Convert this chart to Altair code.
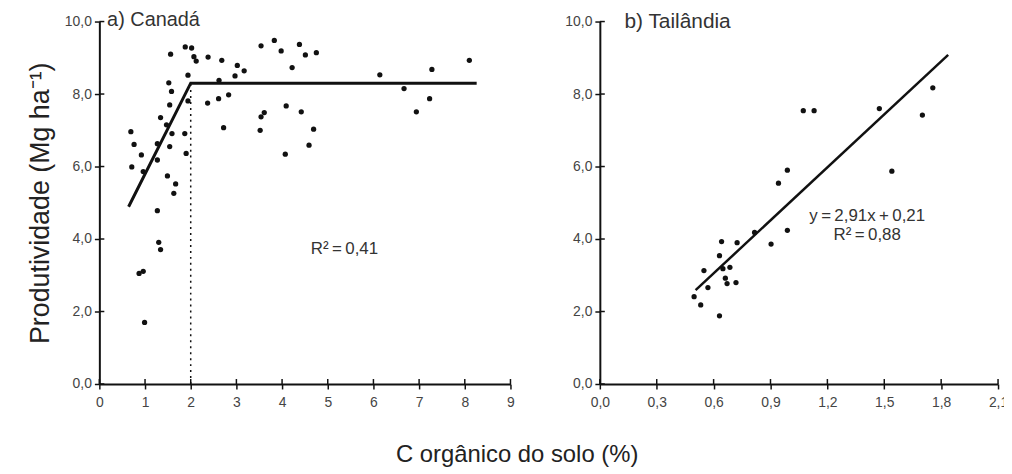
import altair as alt
import pandas as pd

# ---------------- data ----------------
# a) Canadá
ca_x = [0.69, 0.76, 0.71, 0.92, 0.96, 1.27, 1.27, 1.34, 1.47, 1.54, 1.49, 1.67, 1.63,
        1.56, 1.52, 1.58, 1.54, 1.59, 1.87, 1.90, 1.88, 2.02, 2.07, 2.12, 2.38, 2.68,
        3.02, 3.17, 2.97, 1.94, 1.94, 2.62, 2.37, 2.61, 2.83, 2.72, 3.54, 3.83, 3.98,
        4.38, 4.51, 4.75, 4.22, 3.61, 3.54, 4.09, 4.42, 4.69, 3.52, 4.59, 4.07, 6.14,
        6.67, 7.28, 7.23, 6.94, 8.10, 1.27, 1.30, 1.34, 0.87, 0.96, 0.99]
ca_y = [6.96, 6.61, 5.99, 6.32, 5.86, 6.63, 6.18, 7.35, 7.15, 6.55, 5.74, 5.52, 5.26,
        9.10, 8.31, 8.07, 7.70, 6.91, 6.91, 6.36, 9.30, 9.27, 9.03, 8.91, 9.02, 8.93,
        8.79, 8.64, 8.50, 8.52, 7.81, 8.38, 7.75, 7.87, 7.98, 7.07, 9.33, 9.48, 9.19,
        9.37, 9.08, 9.14, 8.73, 7.49, 7.37, 7.67, 7.51, 7.03, 7.00, 6.59, 6.34, 8.53,
        8.15, 8.68, 7.87, 7.51, 8.93, 4.78, 3.91, 3.71, 3.05, 3.11, 1.70]
ca_fit_x = [0.64, 2.0, 8.26]
ca_fit_y = [4.89, 8.30, 8.30]
ca_break_x = [2.0, 2.0]
ca_break_y = [0.0, 8.30]

# b) Tailândia
th_x = [0.497, 0.532, 0.570, 0.549, 0.631, 0.631, 0.642, 0.649, 0.662, 0.671, 0.686,
        0.718, 0.724, 0.816, 0.903, 0.989, 0.942, 0.989, 1.073, 1.130, 1.474, 1.540,
        1.701, 1.756]
th_y = [2.41, 2.18, 2.66, 3.13, 1.88, 3.54, 3.93, 3.18, 2.92, 2.77, 3.22, 2.80, 3.90,
        4.18, 3.86, 4.24, 5.54, 5.90, 7.54, 7.54, 7.60, 5.87, 7.42, 8.17]
th_fit_x = [0.505, 1.837]
th_fit_y = [2.59, 9.08]

y_ticks = [0, 2, 4, 6, 8, 10]
xa_ticks = [0, 1, 2, 3, 4, 5, 6, 7, 8, 9]
xb_ticks = [0.0, 0.3, 0.6, 0.9, 1.2, 1.5, 1.8, 2.1]

y_title = "Produtividade (Mg ha⁻¹)"
x_title = "C orgânico do solo (%)"
label_a = "a) Canadá"
label_b = "b) Tailândia"
r2_a = "R²\u2009=\u20090,41"
eq_b = "y\u2009=\u20092,91x\u2009+\u20090,21"
r2_b = "R²\u2009=\u20090,88"

FONT = "Liberation Sans"
INK = "#111111"
W_A, W_B, H = 414, 401, 365

comma1 = "replace(format(datum.value, '.1f'), '.', ',')"


def panel(px, py, fit_x, fit_y, xdom, xticks, xfmt, W, ytitle, texts, fit_w, extra=None):
    sx = alt.Scale(domain=xdom, nice=False, zero=False)
    sy = alt.Scale(domain=[0, 10], nice=False)
    pts = pd.DataFrame({"x": px, "y": py})
    fit = pd.DataFrame({"x": fit_x, "y": fit_y, "o": list(range(len(fit_x)))})
    xaxis = alt.Axis(values=xticks, labelExpr=xfmt, title=None, labelFlush=False)
    yaxis = alt.Axis(values=y_ticks, labelExpr=comma1, labelFlush=False,
                     title=ytitle if ytitle else None)
    base_pts = alt.Chart(pts).mark_circle(size=28, color=INK, opacity=1).encode(
        x=alt.X("x:Q", scale=sx, axis=xaxis),
        y=alt.Y("y:Q", scale=sy, axis=yaxis),
    )
    line = alt.Chart(fit).mark_line(color=INK, strokeWidth=fit_w).encode(
        x=alt.X("x:Q", scale=sx), y=alt.Y("y:Q", scale=sy), order="o:Q"
    )
    layers = [base_pts, line]
    if extra is not None:
        ex = pd.DataFrame({"x": extra[0], "y": extra[1]})
        layers.append(alt.Chart(ex).mark_line(color=INK, strokeWidth=1.5,
                                              strokeDash=[2, 4]).encode(
            x=alt.X("x:Q", scale=sx), y=alt.Y("y:Q", scale=sy)))
    # inner halves of the crossing ticks
    layers.append(alt.Chart(pd.DataFrame({"v": y_ticks})).mark_rule(
        color=INK, strokeWidth=1.5).encode(
        y=alt.Y("v:Q", scale=sy), x=alt.value(0), x2=alt.value(5)))
    layers.append(alt.Chart(pd.DataFrame({"v": xticks})).mark_rule(
        color=INK, strokeWidth=1.5).encode(
        x=alt.X("v:Q", scale=sx), y=alt.value(H), y2=alt.value(H - 5)))
    for (t, tx, ty, fs, al) in texts:
        layers.append(alt.Chart(pd.DataFrame({"x": [tx], "y": [ty], "t": [t]})).mark_text(
            font=FONT, fontSize=fs, color="#333333", align=al, baseline="middle").encode(
            x=alt.X("x:Q", scale=sx), y=alt.Y("y:Q", scale=sy), text="t:N"))
    return alt.layer(*layers).properties(width=W, height=H)


pa = panel(ca_x, ca_y, ca_fit_x, ca_fit_y, [0, 9], xa_ticks,
           "format(datum.value, 'd')", W_A, y_title,
           [(label_a, 0.17, 10.05, 20, "left"), (r2_a, 4.63, 3.73, 17, "left")],
           3, extra=(ca_break_x, ca_break_y))
pb = panel(th_x, th_y, th_fit_x, th_fit_y, [0, 2.1], xb_ticks, comma1, W_B, None,
           [(label_b, 0.13, 10.0, 21, "left"), (eq_b, 1.41, 4.64, 17, "center"),
            (r2_b, 1.41, 4.10, 17, "center")],
           2.5)

chart = alt.hconcat(pa, pb, spacing=50).properties(
    title=alt.TitleParams(x_title, orient="bottom", anchor="middle", fontSize=24,
                          font=FONT, fontWeight="normal", color="#222222", offset=34),
    padding={"left": 18, "top": 0, "right": -4, "bottom": 5},
).configure_view(stroke=None).configure_axis(
    domainColor=INK, domainWidth=2, tickColor=INK, tickWidth=1.5, tickSize=5,
    labelColor="#444444", labelFontSize=14, labelFont=FONT, labelPadding=3,
    titleFont=FONT, titleFontSize=27, titleFontWeight="normal", titleColor="#222222",
    titlePadding=10, grid=False,
).configure_axisX(labelPadding=7)

chart.save("out.html", embed_options={"renderer": "svg", "actions": False})
